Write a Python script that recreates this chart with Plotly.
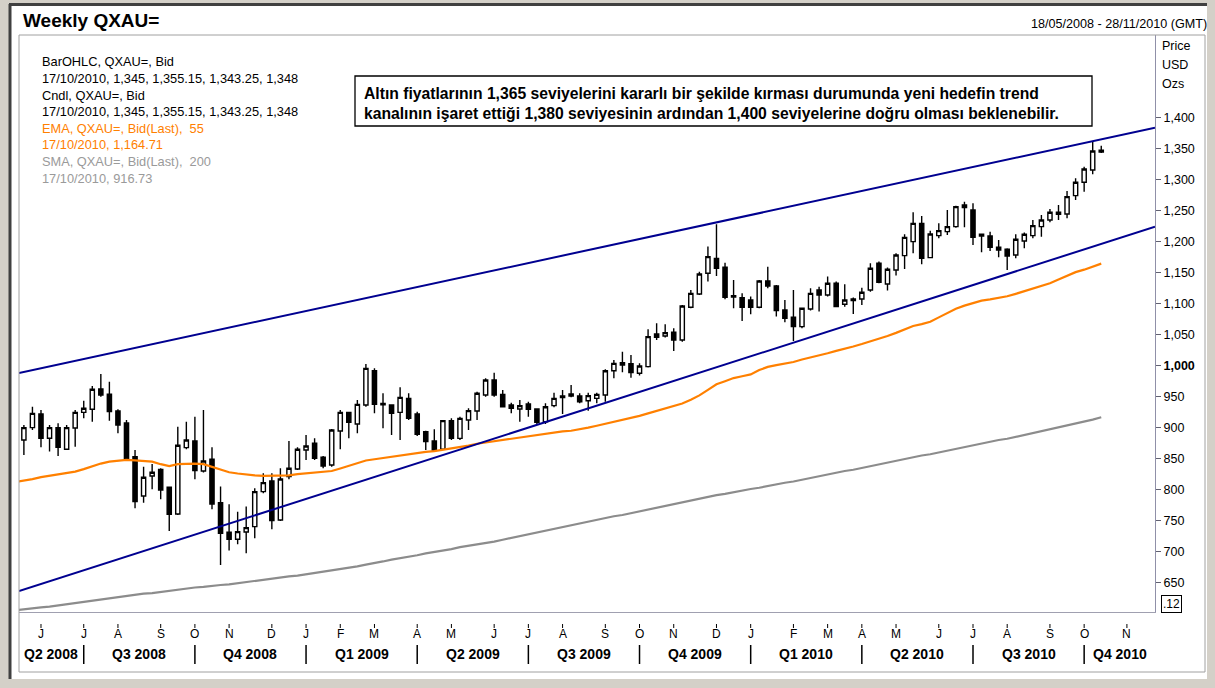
import pandas as pd
import plotly.graph_objects as go

# ---------------- data ----------------
first_week = "2008-05-18"
opens = [880.1, 900.0, 922.0, 882.8, 900.0, 865.0, 899.4, 924.7, 929.6, 962.4,
         953.8, 926.9, 907.5, 853.2, 789.7, 822.0, 832.7, 803.7, 760.6, 867.7,
         878.5, 830.0, 848.9, 778.9, 731.1, 719.8, 731.6, 740.2, 796.7, 813.9,
         751.0, 820.9, 833.3, 863.9, 874.7, 852.1, 839.7, 894.6, 924.7, 905.9,
         936.5, 992.0, 939.2, 936.5, 924.7, 947.3, 922.0, 893.5, 878.4, 865.0,
         911.3, 882.7, 912.3, 926.9, 952.7, 976.9, 953.7, 936.5, 930.1, 938.1,
         930.1, 909.6, 935.5, 951.1, 954.3, 951.1, 943.5, 947.3, 952.7, 991.9,
         1005.0, 1003.3, 987.7, 998.5, 1051.2, 1048.0, 1053.9, 1041.5, 1094.3, 1115.8,
         1149.1, 1173.3, 1158.8, 1113.1, 1109.9, 1106.1, 1094.3, 1136.8, 1128.7, 1089.9,
         1078.1, 1063.0, 1091.6, 1122.2, 1114.2, 1133.0, 1099.1, 1107.7, 1107.7, 1122.2,
         1165.3, 1131.9, 1154.5, 1177.6, 1200.2, 1229.8, 1174.4, 1209.9, 1216.4, 1224.5,
         1259.4, 1251.4, 1212.1, 1209.4, 1191.1, 1187.9, 1178.7, 1201.3, 1209.9, 1224.5,
         1235.2, 1247.6, 1244.9, 1274.5, 1296.0, 1315.9, 1345.0]
highs = [904.3, 933.9, 928.5, 904.3, 907.0, 904.3, 928.5, 943.6, 967.2, 986.6,
         974.2, 929.6, 912.4, 863.9, 837.0, 841.3, 834.4, 804.8, 901.6, 909.7,
         917.7, 928.5, 868.2, 804.8, 776.3, 764.4, 772.5, 802.1, 826.3, 826.3,
         834.4, 878.5, 868.2, 888.1, 882.7, 854.2, 897.8, 928.5, 925.8, 944.6,
         1002.7, 995.7, 955.4, 937.6, 965.0, 955.4, 925.8, 895.1, 897.3, 912.3,
         915.0, 917.7, 931.2, 958.1, 979.6, 988.7, 960.7, 940.3, 944.6, 941.9,
         931.2, 939.2, 956.4, 960.7, 968.8, 955.4, 956.4, 956.4, 994.1, 1009.2,
         1022.7, 1017.3, 1003.9, 1058.8, 1068.4, 1066.8, 1060.4, 1098.0, 1122.2, 1151.8,
         1192.2, 1228.2, 1166.3, 1138.4, 1116.8, 1111.5, 1138.4, 1159.9, 1130.3, 1106.1,
         1122.2, 1093.7, 1125.0, 1127.6, 1143.8, 1135.7, 1131.4, 1109.9, 1126.0, 1165.3,
         1168.0, 1158.3, 1181.4, 1212.1, 1247.6, 1241.7, 1218.0, 1229.8, 1251.4, 1258.3,
         1264.8, 1262.1, 1212.6, 1216.4, 1202.9, 1189.5, 1212.1, 1214.8, 1235.2, 1243.3,
         1253.0, 1259.4, 1282.0, 1302.5, 1321.3, 1362.7, 1355.15]
lows = [855.9, 896.2, 868.2, 861.3, 854.3, 863.9, 869.3, 915.0, 909.7, 950.0,
        911.3, 890.8, 848.9, 769.8, 778.9, 800.5, 784.3, 733.2, 759.0, 865.0,
        816.6, 827.4, 768.2, 678.3, 701.5, 711.7, 697.2, 721.4, 794.0, 735.9,
        749.3, 816.6, 831.7, 847.8, 847.8, 834.3, 837.0, 865.0, 882.7, 890.8,
        933.8, 923.1, 898.9, 888.1, 880.0, 912.3, 886.5, 863.9, 862.8, 863.9,
        880.0, 880.0, 896.2, 912.3, 950.0, 950.0, 932.8, 923.1, 909.6, 917.6,
        905.9, 905.9, 932.8, 922.0, 948.9, 939.2, 927.4, 939.2, 941.9, 979.6,
        989.3, 980.7, 984.0, 996.9, 1041.5, 1045.3, 1023.8, 1038.8, 1092.6, 1114.2,
        1135.7, 1144.8, 1107.2, 1092.6, 1072.2, 1083.0, 1092.6, 1124.9, 1079.2, 1070.0,
        1039.9, 1060.4, 1088.9, 1087.3, 1111.5, 1094.3, 1095.3, 1083.5, 1098.0, 1119.5,
        1133.0, 1121.2, 1145.4, 1156.1, 1181.4, 1163.7, 1173.3, 1205.6, 1211.0, 1222.8,
        1223.4, 1194.9, 1183.0, 1185.2, 1175.0, 1154.5, 1173.3, 1189.5, 1205.6, 1208.3,
        1231.4, 1235.2, 1237.9, 1267.5, 1280.9, 1308.9, 1343.25]
closes = [900.0, 923.1, 882.8, 900.0, 868.2, 900.0, 924.7, 931.2, 961.9, 952.7,
          925.8, 904.3, 850.5, 780.6, 819.8, 827.9, 799.4, 760.1, 871.5, 880.1,
          830.6, 846.2, 776.8, 729.4, 719.8, 732.1, 738.6, 796.7, 811.2, 749.9,
          817.1, 834.4, 865.0, 870.4, 850.5, 838.1, 896.2, 924.7, 908.6, 937.6,
          995.7, 937.6, 937.0, 923.1, 948.9, 915.0, 889.2, 877.4, 863.9, 911.3,
          882.7, 915.0, 927.4, 955.4, 976.9, 952.7, 933.8, 931.2, 935.5, 929.5,
          908.6, 933.8, 947.3, 948.4, 951.1, 941.9, 951.6, 953.7, 991.9, 1003.8,
          1001.2, 988.8, 999.6, 1046.9, 1045.8, 1053.4, 1041.5, 1096.4, 1116.8, 1148.1,
          1176.0, 1157.2, 1110.4, 1110.9, 1094.3, 1094.3, 1136.8, 1128.7, 1088.9, 1076.5,
          1063.0, 1092.6, 1116.8, 1114.2, 1133.0, 1095.3, 1106.1, 1105.0, 1118.5, 1157.2,
          1134.6, 1155.6, 1178.7, 1207.2, 1229.8, 1173.3, 1212.6, 1218.0, 1224.5, 1256.7,
          1255.1, 1207.2, 1209.4, 1191.1, 1186.8, 1177.1, 1204.0, 1212.1, 1226.1, 1235.2,
          1247.6, 1244.4, 1272.9, 1296.0, 1317.5, 1346.6, 1348.0]

# moving averages start one week before the first visible bar
ma_first_week = "2008-05-11"
ema55 = [812, 814, 817, 820, 822, 824, 826, 829, 833, 838, 842, 845, 847, 848, 847, 846,
         845, 841, 838, 841, 842, 842, 841, 837, 832, 828, 826, 824, 823, 822, 822, 822,
         823, 825, 826, 827, 828, 830, 834, 838, 843, 847, 849, 851, 853, 856, 858, 860,
         861, 862, 864, 866, 869, 871, 874, 876, 879, 881, 883, 885, 887, 889, 891, 892,
         894, 895, 897, 900, 903, 906, 909, 913, 916, 919, 923, 927, 931, 934, 939, 945,
         952, 961, 970, 975, 980, 983, 986, 993, 998, 1001, 1003, 1006, 1010, 1013, 1016, 1020,
         1024, 1027, 1031, 1035, 1039, 1043, 1048, 1053, 1059, 1064, 1067, 1071, 1078, 1085, 1092, 1097,
         1101, 1105, 1107, 1109, 1112, 1116, 1120, 1124, 1128, 1133, 1139, 1145, 1151, 1155, 1160, 1164.71]
sma200 = [605, 607, 608, 610, 611, 613, 615, 617, 619, 621, 623, 625, 627, 628, 630, 632,
          633, 635, 637, 638, 640, 642, 643, 645, 646, 647, 649, 650, 652, 654, 656, 658,
          660, 661, 663, 665, 667, 669, 671, 674, 676, 679, 681, 684, 687, 689, 692, 694,
          697, 699, 702, 704, 707, 709, 711, 714, 716, 719, 722, 725, 727, 730, 733, 736,
          739, 742, 745, 748, 751, 754, 757, 759, 762, 765, 768, 771, 774, 777, 780, 783,
          786, 788, 791, 793, 796, 798, 801, 803, 806, 808, 811, 813, 816, 819, 821, 824,
          827, 830, 832, 835, 838, 841, 843, 846, 849, 852, 855, 857, 860, 863, 866, 869,
          871, 874, 877, 880, 882, 885, 888, 891, 894, 897, 900, 903, 906, 909, 913, 916.73]

channel_dates = ["2008-05-14", "2010-11-30"]
upper_channel = [988.2, 1384.2]
lower_channel = [636.3, 1224.4]

y_ticks = list(range(650, 1401, 50))
quarter_names = ["Q2 2008", "Q3 2008", "Q4 2008", "Q1 2009", "Q2 2009", "Q3 2009",
                 "Q4 2009", "Q1 2010", "Q2 2010", "Q3 2010", "Q4 2010"]
legend_lines = [
    ("BarOHLC, QXAU=, Bid", "#000000"),
    ("17/10/2010, 1,345, 1,355.15, 1,343.25, 1,348", "#000000"),
    ("Cndl, QXAU=, Bid", "#000000"),
    ("17/10/2010, 1,345, 1,355.15, 1,343.25, 1,348", "#000000"),
    ("EMA, QXAU=, Bid(Last),  55", "#ff8000"),
    ("17/10/2010, 1,164.71", "#ff8000"),
    ("SMA, QXAU=, Bid(Last),  200", "#9a9a9a"),
    ("17/10/2010, 916.73", "#9a9a9a"),
]
note_lines = [
    "Altın fiyatlarının 1,365 seviyelerini kararlı bir şekilde kırması durumunda yeni hedefin trend",
    "kanalının işaret ettiği 1,380 seviyesinin ardından 1,400 seviyelerine doğru olması beklenebilir.",
]

# ---------------- layout geometry (pixels) ----------------
FW, FH = 1215, 688
L, R, T, B = 19, 1155, 35, 612
W, H = R - L, B - T
X_RANGE = ["2008-05-14", "2010-11-30"]
Y_RANGE = [602.4, 1533.8]
FONT = "Arial, Liberation Sans, sans-serif"


def px(x):
    return (x - L) / W


def py(y):
    return (B - y) / H


dates = pd.date_range(first_week, periods=len(opens), freq="W-SUN")
ma_dates = pd.date_range(ma_first_week, periods=len(ema55), freq="W-SUN")

fig = go.Figure()

fig.add_trace(go.Scatter(x=ma_dates, y=sma200, mode="lines",
                         line=dict(color="#8c8c8c", width=2.2), hoverinfo="skip"))
fig.add_trace(go.Scatter(x=ma_dates, y=ema55, mode="lines",
                         line=dict(color="#ff8000", width=2.2), hoverinfo="skip"))
fig.add_trace(go.Scatter(x=channel_dates, y=upper_channel, mode="lines",
                         line=dict(color="#000090", width=2), hoverinfo="skip"))
fig.add_trace(go.Scatter(x=channel_dates, y=lower_channel, mode="lines",
                         line=dict(color="#000090", width=2), hoverinfo="skip"))
fig.add_trace(go.Candlestick(
    x=dates, open=opens, high=highs, low=lows, close=closes,
    increasing=dict(line=dict(color="#000000", width=1.4), fillcolor="#ffffff"),
    decreasing=dict(line=dict(color="#000000", width=1.4), fillcolor="#000000"),
    whiskerwidth=0, showlegend=False))

# last-value diamonds beyond the right edge of the plot
marker_date = pd.Timestamp(X_RANGE[1]) + pd.Timedelta(days=4)
fig.add_trace(go.Scatter(
    x=[marker_date] * 3, y=[closes[-1], ema55[-1], sma200[-1]], mode="markers",
    marker=dict(symbol="diamond", size=10, color=["#000000", "#ff8000", "#8c8c8c"]),
    cliponaxis=False, hoverinfo="skip"))

# month ticks: first weekly bar of every month
all_weeks = pd.date_range(first_week, X_RANGE[1], freq="W-SUN")
month_ticks = [d for i, d in enumerate(all_weeks)
               if i > 0 and d.month != all_weeks[i - 1].month]

shapes = []
annotations = []

# frame
shapes.append(dict(type="rect", xref="paper", yref="paper", x0=px(9), x1=px(1207),
                   y0=py(679), y1=py(4), fillcolor="#ffffff", line=dict(width=0), layer="below"))
shapes.append(dict(type="line", xref="paper", yref="paper", x0=px(10), x1=px(10),
                   y0=py(679), y1=py(4), line=dict(color="#404040", width=3)))
shapes.append(dict(type="line", xref="paper", yref="paper", x0=px(9), x1=px(1207),
                   y0=py(4.5), y1=py(4.5), line=dict(color="#404040", width=3)))
shapes.append(dict(type="rect", xref="paper", yref="paper", x0=px(19), x1=px(1205),
                   y0=py(672), y1=py(35), line=dict(color="#a0a0a0", width=1)))

for d in month_ticks:
    shapes.append(dict(type="line", xref="x", yref="paper", x0=d, x1=d,
                       y0=py(624), y1=py(628), line=dict(color="#000000", width=1)))
    annotations.append(dict(xref="x", yref="paper", x=d, y=py(634), text=d.strftime("%b")[0],
                            showarrow=False, font=dict(family=FONT, size=12, color="#000000"),
                            xanchor="center", yanchor="middle"))

quarter_starts = [d for d in month_ticks if d.month in (1, 4, 7, 10)]
bounds = [pd.Timestamp(X_RANGE[0])] + quarter_starts + [pd.Timestamp(X_RANGE[1])]
for d in quarter_starts:
    shapes.append(dict(type="line", xref="x", yref="paper", x0=d, x1=d,
                       y0=py(645), y1=py(664), line=dict(color="#000000", width=1.5)))
for name, a, b in zip(quarter_names, bounds[:-1], bounds[1:]):
    annotations.append(dict(xref="x", yref="paper", x=a + (b - a) / 2, y=py(654),
                            text="<b>%s</b>" % name, showarrow=False,
                            font=dict(family=FONT, size=14, color="#000000"),
                            xanchor="center", yanchor="middle"))

# note box
shapes.append(dict(type="rect", xref="paper", yref="paper", x0=px(355), x1=px(1092),
                   y0=py(126), y1=py(76), line=dict(color="#000000", width=1.3),
                   fillcolor="#ffffff"))
for txt, yy in zip(note_lines, [93, 114]):
    annotations.append(dict(xref="paper", yref="paper", x=px(362), y=py(yy),
                            text="<b>%s</b>" % txt, showarrow=False, xanchor="left",
                            yanchor="middle", font=dict(family=FONT, size=15.7, color="#000000")))

# legend text block
for k, (txt, col) in enumerate(legend_lines):
    annotations.append(dict(xref="paper", yref="paper", x=px(40), y=py(61.7 + 16.66 * k),
                            text=txt, showarrow=False, xanchor="left", yanchor="middle",
                            font=dict(family=FONT, size=12.8, color=col)))

# title and header texts
annotations.append(dict(xref="paper", yref="paper", x=px(21), y=py(21), text="<b>Weekly QXAU=</b>",
                        showarrow=False, xanchor="left", yanchor="middle",
                        font=dict(family=FONT, size=19, color="#000000")))
annotations.append(dict(xref="paper", yref="paper", x=px(1209), y=py(24),
                        text="18/05/2008 - 28/11/2010 (GMT)", showarrow=False,
                        xanchor="right", yanchor="middle",
                        font=dict(family=FONT, size=12.6, color="#000000")))
for txt, yy in zip(["Price", "USD", "Ozs"], [46, 65, 84]):
    annotations.append(dict(xref="paper", yref="paper", x=px(1160), y=py(yy), text=txt,
                            showarrow=False, xanchor="left", yanchor="middle",
                            font=dict(family=FONT, size=12.5, color="#000000")))
annotations.append(dict(xref="paper", yref="paper", x=px(1172), y=py(604), text=".12",
                        showarrow=False, xanchor="center", yanchor="middle",
                        bordercolor="#000000", borderwidth=1, borderpad=1,
                        font=dict(family=FONT, size=12, color="#000000")))

tick_text = ["<b>1,000</b>" if v == 1000 else "{:,}".format(v) for v in y_ticks]

fig.update_layout(
    width=FW, height=FH,
    margin=dict(l=L, r=FW - R, t=T, b=FH - B, pad=0),
    paper_bgcolor="#d4d0c8", plot_bgcolor="#ffffff",
    showlegend=False,
    shapes=shapes, annotations=annotations,
    font=dict(family=FONT, size=12, color="#000000"),
    xaxis=dict(type="date", range=X_RANGE, showgrid=False, zeroline=False,
               showticklabels=False, ticks="", rangeslider=dict(visible=False),
               showline=True, linecolor="#a0a0b0", linewidth=1, mirror=False),
    yaxis=dict(side="right", range=Y_RANGE, showgrid=False, zeroline=False,
               tickvals=y_ticks, ticktext=tick_text, ticks="outside", ticklen=5,
               tickcolor="#606070", tickfont=dict(family=FONT, size=12.5, color="#000000"),
               showline=True, linecolor="#9090a8", linewidth=1),
)

fig.write_html("out.html", config={"displayModeBar": False},
               post_script="document.body.style.margin='0';")
